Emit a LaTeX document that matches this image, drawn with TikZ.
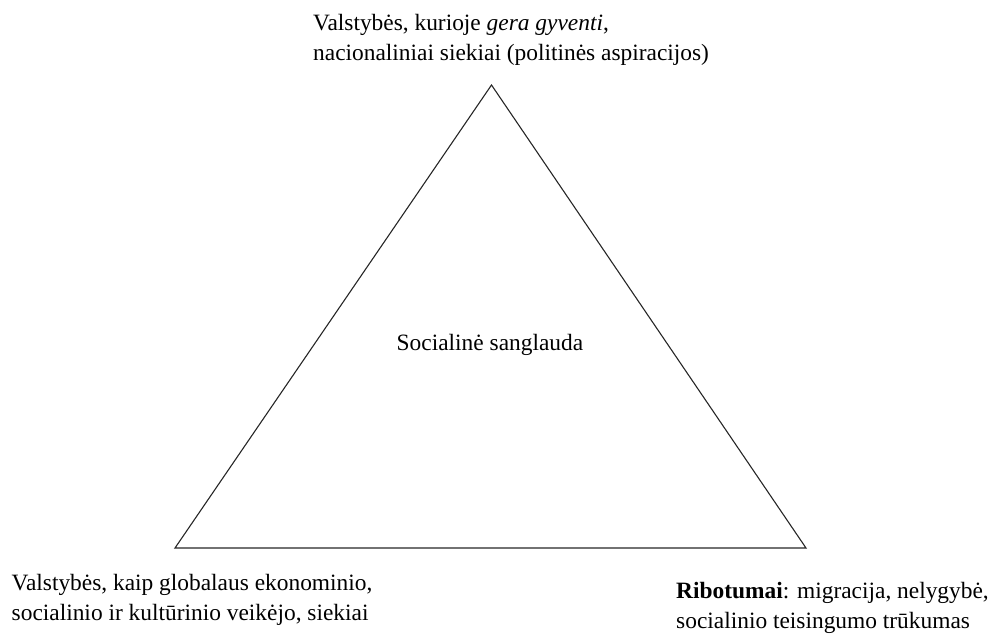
\documentclass[tikz,border=0pt]{standalone}
\usepackage{fontspec}
\setmainfont{Liberation Serif}
\begin{document}
\begin{tikzpicture}[x=1pt,y=-1pt,
  lbl/.style={font=\fontsize{23.4}{30}\selectfont, inner sep=0pt, align=left, anchor=base west},
  edge/.style={line width=1.1pt, draw=black!85, line join=miter}]
\useasboundingbox (0,0) rectangle (996,635);
\coordinate (apex) at (491.5,85);
\coordinate (bl) at (175,548);
\coordinate (br) at (806,548);
\draw[edge] (apex) -- (bl) -- (br) -- cycle;
\node[lbl] (top) at (313,60) {Valstybės, kurioje \textit{gera gyventi},\\nacionaliniai siekiai (politinės aspiracijos)};
\node[lbl] (center) at (396.5,350) {Socialinė sanglauda};
\node[lbl] (left) at (11.5,620) {Valstybės, kaip globalaus ekonominio,\\socialinio ir kultūrinio veikėjo, siekiai};
\node[lbl] (right) at (676,628) {\textbf{Ribotumai}: migracija, nelygybė,\\socialinio teisingumo trūkumas};
\end{tikzpicture}
\end{document}
